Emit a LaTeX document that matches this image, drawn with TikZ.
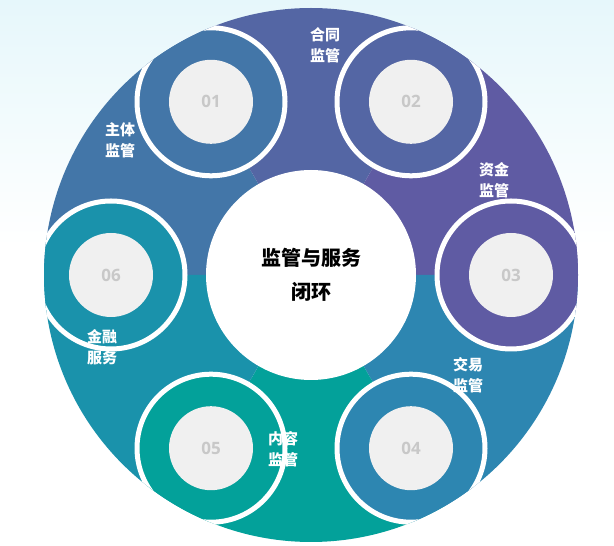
\documentclass[tikz,border=0pt]{standalone}
\usepackage{fontspec}
\newfontfamily\cjk{Noto Sans CJK SC}
\setmainfont{Open Sans}
\definecolor{segA}{HTML}{4376A8}
\definecolor{segB}{HTML}{5466A4}
\definecolor{segC}{HTML}{5F5BA3}
\definecolor{segD}{HTML}{2D86B1}
\definecolor{segE}{HTML}{03A19A}
\definecolor{segF}{HTML}{1A92AB}
\definecolor{numgray}{HTML}{C8C8C8}
\definecolor{bgtop}{HTML}{E6F7FB}
\usetikzlibrary{positioning,calc}

\begin{document}
\begin{tikzpicture}[x=1pt,y=1pt,
                     seg label/.style={text=white,font=\cjk\bfseries\fontsize{15}{21}\selectfont,align=center},
                     num circle/.style={circle,fill=gray!12,minimum size=84pt,inner sep=0pt,
                       text=numgray,font=\bfseries\fontsize{17}{17}\selectfont}
                    ]
   \useasboundingbox (0,0) rectangle (614,546);
   \shade[top color=bgtop,bottom color=white] (0,546) rectangle (614,300);
   \coordinate (c) at (311,271);
   % sectors, each 60 degrees clockwise
   \foreach \a/\col in {180/segA,120/segB,60/segC,0/segD,-60/segE,-120/segF}
     \fill[\col] (c) -- ++(\a:267) arc[start angle=\a,end angle=\a-60,radius=267] -- cycle;
   % bulbs at the leading end of each segment
   \begin{scope}
     \clip (c) circle (267);
     \foreach \a/\col in {120/segA,60/segB,0/segC,-60/segD,-120/segE,180/segF}
       \filldraw[fill=\col,draw=white,line width=5pt] (c) ++(\a:200) circle (74);
   \end{scope}
   \node[circle,fill=white,minimum size=210pt] (hub) at (c) {};
   \node[font=\cjk\bfseries\fontsize{20}{34}\selectfont,align=center] (title) at (c) {监管与服务\\闭环};
   % numbers
   \node[num circle] (n1) at ($(c)+(120:200)$) {01};
   \node[num circle] (n2) at ($(c)+(60:200)$) {02};
   \node[num circle] (n3) at ($(c)+(0:200)$) {03};
   \node[num circle] (n4) at ($(c)+(-60:200)$) {04};
   \node[num circle] (n5) at ($(c)+(-120:200)$) {05};
   \node[num circle] (n6) at ($(c)+(180:200)$) {06};
   % labels
   \node[seg label] (l1) at (120,406) {主体\\监管};
   \node[seg label] (l2) at (325,501) {合同\\监管};
   \node[seg label] (l3) at (494,366) {资金\\监管};
   \node[seg label] (l4) at (468,171) {交易\\监管};
   \node[seg label] (l5) at (283,97) {内容\\监管};
   \node[seg label] (l6) at (102,199) {金融\\服务};
\end{tikzpicture}
\end{document}
